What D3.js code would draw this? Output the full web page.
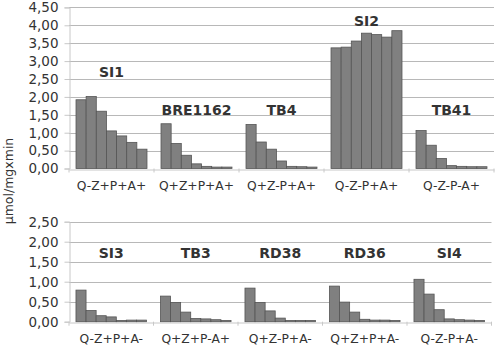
<!DOCTYPE html>
<html>
<head>
<meta charset="utf-8">
<script src="https://cdn.jsdelivr.net/npm/d3@7"></script>
<style>
  body { margin: 0; background: #fff; }
  text { font-family: "DejaVu Sans", Verdana, sans-serif; fill: #333; }
</style>
</head>
<body>
<div id="chart"></div>
<script>
// Top panel data
const topGroups = ["SI1", "BRE1162", "TB4", "SI2", "TB41"];
const topCodes = ["Q-Z+P+A+", "Q+Z+P+A+", "Q+Z-P+A+", "Q-Z-P+A+", "Q-Z-P-A+"];
const topValues = [
  [1.92, 2.01, 1.60, 1.05, 0.91, 0.73, 0.54],
  [1.25, 0.70, 0.37, 0.13, 0.06, 0.04, 0.04],
  [1.23, 0.74, 0.54, 0.21, 0.06, 0.05, 0.04],
  [3.37, 3.39, 3.56, 3.78, 3.74, 3.67, 3.85],
  [1.06, 0.65, 0.28, 0.08, 0.06, 0.05, 0.05]
];
const topLabelAt = [2.55, 1.50, 1.50, 3.98, 1.50];
const topTicks = [0, 0.5, 1, 1.5, 2, 2.5, 3, 3.5, 4, 4.5];

// Bottom panel data
const bottomGroups = ["SI3", "TB3", "RD38", "RD36", "SI4"];
const bottomCodes = ["Q-Z+P+A-", "Q+Z+P-A+", "Q+Z-P+A-", "Q+Z+P+A-", "Q-Z-P+A-"];
const bottomValues = [
  [0.79, 0.28, 0.15, 0.12, 0.03, 0.04, 0.04],
  [0.64, 0.48, 0.24, 0.08, 0.07, 0.05, 0.03],
  [0.84, 0.48, 0.27, 0.09, 0.03, 0.03, 0.03],
  [0.89, 0.49, 0.24, 0.06, 0.04, 0.04, 0.03],
  [1.06, 0.69, 0.30, 0.07, 0.05, 0.04, 0.03]
];
const bottomLabelAt = [1.6, 1.6, 1.6, 1.6, 1.6];
const bottomTicks = [0, 0.5, 1, 1.5, 2, 2.5];

const yTitle = "µmol/mgxmin";

const svg = d3.select("#chart")
  .append("svg")
    .attr("width", 497)
    .attr("height", 345);

const fmt = v => d3.format(".2f")(v).replace(".", ",");

function panel(opts) {
  const g = svg.append("g");
  const x = d3.scaleBand()
    .domain(opts.groups)
    .range([opts.left, opts.right])
    .paddingInner(0.165)
    .paddingOuter(0.0825);
  const inner = d3.scaleBand()
    .domain(d3.range(7))
    .range([0, x.bandwidth()]);
  const y = d3.scaleLinear()
    .domain([0, opts.max])
    .range([opts.bottom, opts.top]);

  // gridlines
  g.append("g")
    .selectAll("line")
    .data(opts.ticks.slice(1))
    .join("line")
      .attr("x1", opts.left)
      .attr("x2", opts.right)
      .attr("y1", d => Math.round(y(d)) + 0.5)
      .attr("y2", d => Math.round(y(d)) + 0.5)
      .attr("stroke", "#b8b8b8")
      .attr("stroke-width", 1);

  // y axis
  const ya = g.append("g")
    .attr("transform", `translate(${opts.left + 0.5},0)`)
    .call(d3.axisLeft(y).tickValues(opts.ticks).tickFormat(fmt).tickSize(5).tickPadding(6));
  ya.select(".domain").attr("stroke", "#c8c8c8");
  ya.selectAll(".tick line").attr("stroke", "#c8c8c8");
  ya.selectAll(".tick text")
    .style("font-size", "13.5px")
    .attr("fill", "#333");

  // x axis
  const xa = g.append("g")
    .attr("transform", `translate(0,${Math.round(opts.bottom) + 0.5})`)
    .call(d3.axisBottom(x).tickFormat((d, i) => opts.codes[i]).tickSize(0).tickPadding(12));
  xa.select(".domain").attr("stroke", "#c8c8c8");
  xa.selectAll(".tick text")
    .style("font-size", "12.3px")
    .attr("fill", "#333");
  // category separator ticks
  g.append("g")
    .selectAll("line")
    .data(d3.range(opts.groups.length + 1))
    .join("line")
      .attr("x1", i => opts.left + i * x.step())
      .attr("x2", i => opts.left + i * x.step())
      .attr("y1", opts.bottom)
      .attr("y2", opts.bottom + 4)
      .attr("stroke", "#c8c8c8");

  // bars
  const grp = g.append("g")
    .selectAll("g")
    .data(opts.values)
    .join("g")
      .attr("transform", (d, i) => `translate(${x(opts.groups[i])},0)`);
  grp.selectAll("rect")
    .data(d => d)
    .join("rect")
      .attr("x", (d, j) => inner(j))
      .attr("y", d => y(d))
      .attr("width", inner.bandwidth())
      .attr("height", d => y(0) - y(d))
      .attr("fill", "#808080")
      .attr("stroke", "#555")
      .attr("stroke-width", 0.8);

  // group labels
  g.append("g")
    .selectAll("text")
    .data(opts.groups)
    .join("text")
      .attr("x", d => x(d) + x.bandwidth() / 2)
      .attr("y", (d, i) => y(opts.labelAt[i]))
      .attr("text-anchor", "middle")
      .style("font-size", "14px")
      .style("font-weight", "bold")
      .text(d => d);
}

panel({
  groups: topGroups, codes: topCodes, values: topValues, labelAt: topLabelAt,
  ticks: topTicks, max: 4.5,
  left: 69, right: 494, top: 7.4, bottom: 168.5
});

panel({
  groups: bottomGroups, codes: bottomCodes, values: bottomValues, labelAt: bottomLabelAt,
  ticks: bottomTicks, max: 2.5,
  left: 69, right: 491.5, top: 221.7, bottom: 321.7
});

// Y axis title
svg.append("text")
  .attr("transform", "translate(13,181) rotate(-90)")
  .attr("text-anchor", "middle")
  .style("font-size", "12.5px")
  .text(yTitle);
</script>
</body>
</html>
